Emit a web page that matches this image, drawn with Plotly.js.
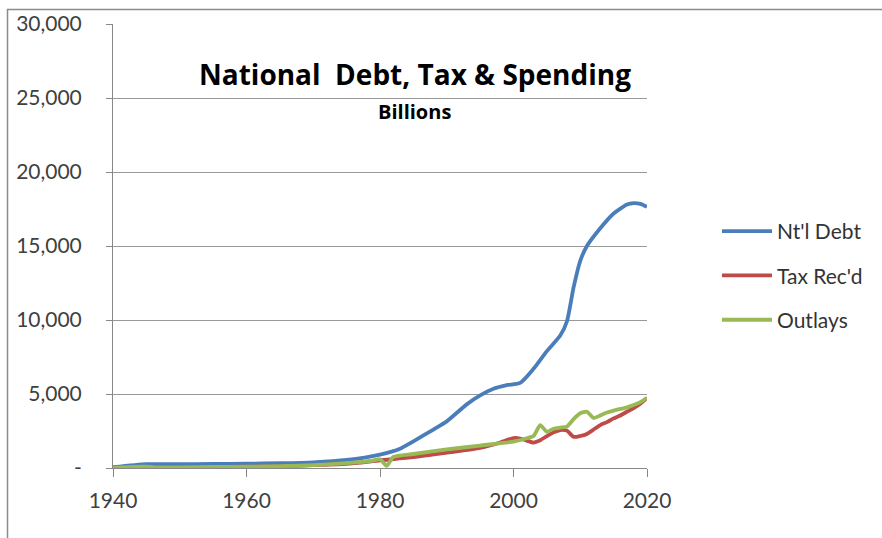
<!DOCTYPE html>
<html>
<head>
<meta charset="utf-8">
<script src="https://cdn.plot.ly/plotly-3.0.1.min.js"></script>
<style>html,body{margin:0;padding:0;background:#fff;}#chart{width:882px;height:538px;}</style>
</head>
<body>
<div id="chart"></div>
<script>
// National debt (billions)
const debtYears = [1940,1945,1950,1955,1960,1965,1970,1975,1980,1983,1985,1988,1990,1993,1995,1997,1999,2001,2003,2005,2007,2008,2009,2010,2011,2013,2015,2017,2018,2019,2020];
const debtValues = [51,260,257,274,291,322,381,542,909,1300,1800,2600,3150,4300,4900,5350,5600,5750,6700,7900,8950,9900,12200,14000,15000,16200,17200,17800,17900,17850,17650];

// Tax receipts (billions)
const taxYears = [1940,1945,1950,1955,1960,1965,1970,1975,1980,1985,1990,1995,1998,2000,2001,2002,2003,2004,2005,2006,2007,2008,2009,2010,2011,2012,2013,2014,2015,2016,2017,2018,2019,2020];
const taxValues = [7,45,39,65,93,117,193,279,517,734,1032,1352,1722,2025,1991,1853,1720,1880,2154,2407,2568,2524,2105,2163,2303,2600,2900,3100,3350,3550,3800,4050,4350,4720];

// Outlays (billions)
const outYears = [1940,1943,1945,1947,1950,1955,1960,1965,1970,1975,1979,1980,1981,1982,1985,1990,1995,2000,2002,2003,2004,2005,2006,2007,2008,2009,2010,2011,2012,2013,2014,2015,2017,2018,2019,2020];
const outValues = [9.5,79,93,35,42,68,92,118,196,332,504,591,150,746,946,1253,1516,1789,2011,2160,2900,2450,2650,2730,2800,3300,3700,3800,3380,3550,3750,3880,4100,4250,4450,4750];

// Axis ticks
const yTickVals = [0,5000,10000,15000,20000,25000,30000];
const yTickText = ['-','5,000','10,000','15,000','20,000','25,000','30,000'];
const xTickVals = [1940,1960,1980,2000,2020];

const FONT = 'Lato, "Open Sans", sans-serif';
const TFONT = '"Open Sans", Lato, sans-serif';

const lineStyle = (c) => ({color: c, width: 3.8, shape: 'spline', smoothing: 0.6});

const traces = [
  {x: debtYears, y: debtValues, name: "Nt'l Debt", legendgroup: 'a', mode: 'lines', line: lineStyle('#4A7EBB')},
  {x: taxYears, y: taxValues, name: "Tax Rec'd", legendgroup: 'b', mode: 'lines', line: lineStyle('#BE4B48')},
  {x: outYears, y: outValues, name: 'Outlays', legendgroup: 'c', mode: 'lines', line: lineStyle('#98B954')}
];

const L = 113, R = 647, T = 24, B = 468;
const px2x = (p) => (p - L) / (R - L);
const px2y = (p) => (B - p) / (B - T);

const layout = {
  width: 882, height: 538,
  margin: {l: L, r: 882 - R, t: T, b: 538 - B},
  paper_bgcolor: '#ffffff',
  plot_bgcolor: '#ffffff',
  font: {family: FONT, size: 21, color: '#404040'},
  showlegend: true,
  legend: {
    x: px2x(717), y: px2y(211), xanchor: 'left', yanchor: 'top',
    font: {family: FONT, size: 21, color: '#333333'},
    tracegroupgap: 14, itemwidth: 50,
    bgcolor: 'rgba(0,0,0,0)'
  },
  xaxis: {
    range: [1940, 2020],
    tickvals: xTickVals,
    ticks: 'outside', ticklen: 8, tickcolor: '#888888', tickwidth: 1,
    showline: true, linecolor: '#888888', linewidth: 1,
    showgrid: false, zeroline: false,
    tickfont: {family: FONT, size: 21, color: '#404040'},
    ticklabelstandoff: 6,
    fixedrange: true
  },
  yaxis: {
    range: [0, 30000],
    tickvals: yTickVals, ticktext: yTickText,
    ticks: 'outside', ticklen: 6, tickcolor: '#888888', tickwidth: 1,
    showline: true, linecolor: '#888888', linewidth: 1,
    showgrid: true, gridcolor: '#999999', gridwidth: 1,
    zeroline: false,
    tickfont: {family: FONT, size: 21, color: '#404040'},
    ticklabelstandoff: 20,
    fixedrange: true
  },
  annotations: [
    {text: '<b>National  Debt, Tax &amp; Spending</b>', xref: 'paper', yref: 'paper',
     x: px2x(415), y: px2y(74), xanchor: 'center', yanchor: 'middle', showarrow: false,
     font: {family: TFONT, size: 28, color: '#000000'}},
    {text: '<b>Billions</b>', xref: 'paper', yref: 'paper',
     x: px2x(414), y: px2y(112), xanchor: 'center', yanchor: 'middle', showarrow: false,
     font: {family: TFONT, size: 20, color: '#000000'}}
  ],
  shapes: [
    {type: 'rect', xref: 'paper', yref: 'paper',
     x0: px2x(7.5), x1: px2x(900), y0: px2y(560), y1: px2y(9.5),
     line: {color: '#8c8c8c', width: 1.5}, fillcolor: 'rgba(0,0,0,0)', layer: 'below'}
  ]
};

Plotly.newPlot('chart', traces, layout, {staticPlot: true, displayModeBar: false});
</script>
</body>
</html>
